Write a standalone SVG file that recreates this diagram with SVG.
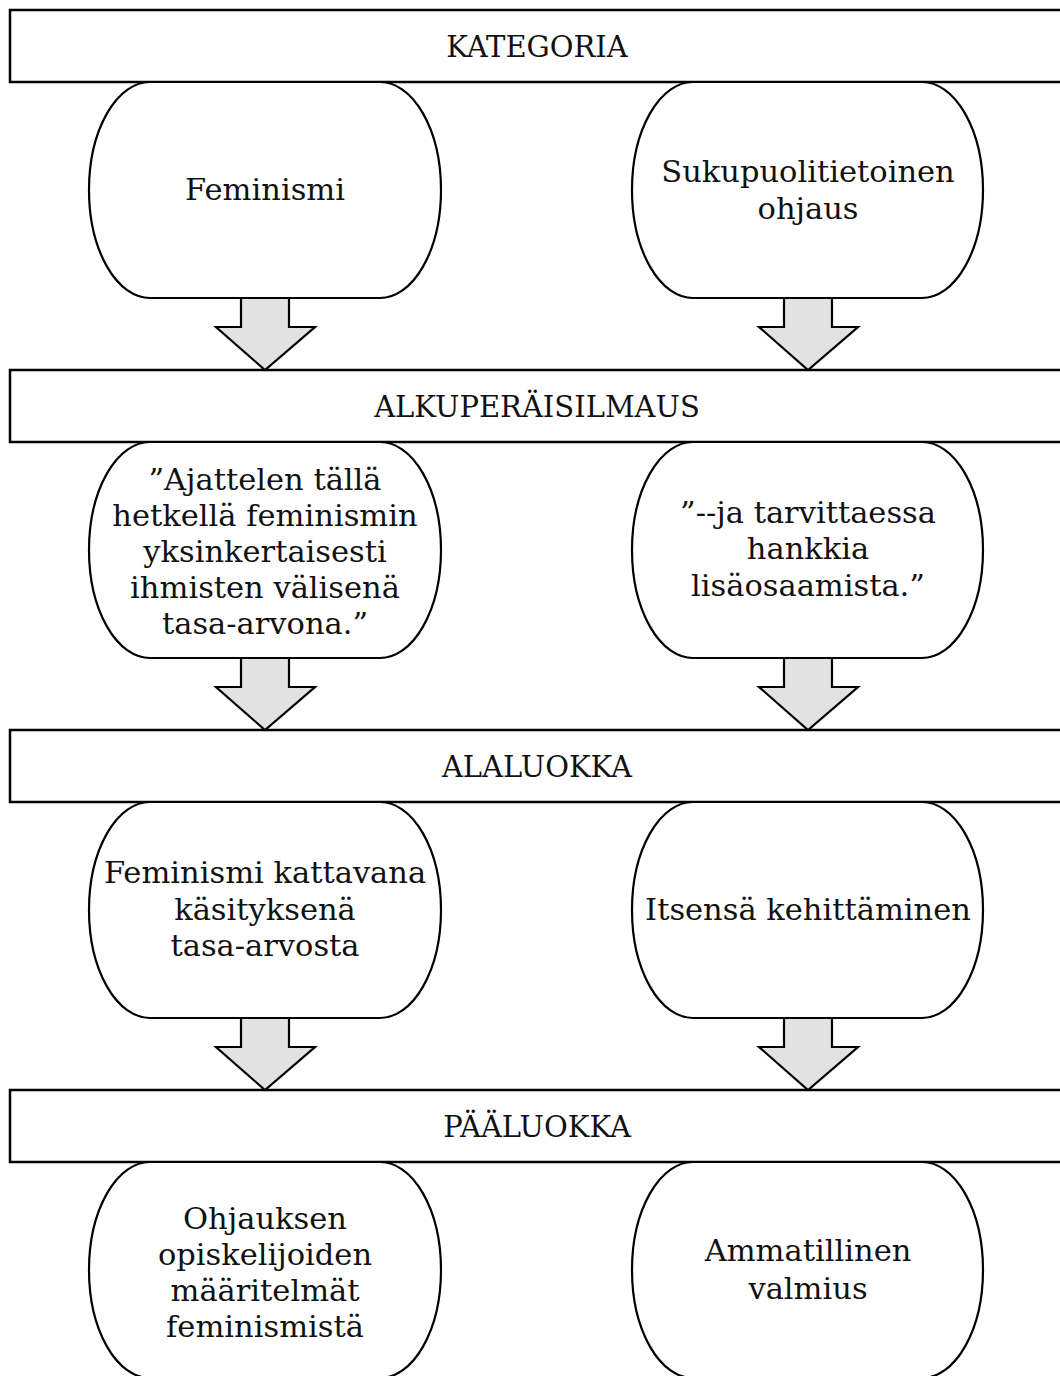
<svg xmlns="http://www.w3.org/2000/svg" width="1060" height="1376" viewBox="0 0 1060 1376">
<style>
.bar{fill:#fff;stroke:#000;stroke-width:2.5}
.node{fill:#fff;stroke:#000;stroke-width:2.2}
.arr{fill:#e2e2e2;stroke:#000;stroke-width:2.2;stroke-linejoin:miter}
text{font-family:"DejaVu Serif","Liberation Serif",serif;font-size:30.5px;fill:#111;text-anchor:middle}
.h{font-size:29px}
</style>
<defs>
<path id="pl" d="M150 0H380A61 108 0 0 1 380 216H150A61 108 0 0 1 150 0Z"/>
<path id="pr" d="M693 0H922A61 108 0 0 1 922 216H693A61 108 0 0 1 693 0Z"/>
<polygon id="al" points="241,0 289,0 289,29 315,29 265,72 216,29 241,29"/>
<polygon id="ar" points="784,0 832,0 832,29 858,29 808,72 759,29 784,29"/>
</defs>
<rect width="1060" height="1376" fill="#fff"/>
<g id="bar-kategoria"><rect class="bar" x="10" y="10" width="1070" height="72"/><text class="h" x="537" y="57">KATEGORIA</text></g>
<g id="bar-alkuperaisilmaus"><rect class="bar" x="10" y="370" width="1070" height="72"/><text class="h" x="537" y="417">ALKUPERÄISILMAUS</text></g>
<g id="bar-alaluokka"><rect class="bar" x="10" y="730" width="1070" height="72"/><text class="h" x="537" y="777">ALALUOKKA</text></g>
<g id="bar-paaluokka"><rect class="bar" x="10" y="1090" width="1070" height="72"/><text class="h" x="537" y="1137">PÄÄLUOKKA</text></g>
<g id="connectors">
<use href="#al" class="arr" y="298"/><use href="#ar" class="arr" y="298"/>
<use href="#al" class="arr" y="658"/><use href="#ar" class="arr" y="658"/>
<use href="#al" class="arr" y="1018"/><use href="#ar" class="arr" y="1018"/>
</g>
<g id="n-feminismi"><use href="#pl" class="node" y="82"/><text x="265" y="200">Feminismi</text></g>
<g id="n-sukupuoli"><use href="#pr" class="node" y="82"/><text x="808" y="182">Sukupuolitietoinen</text><text x="808" y="219">ohjaus</text></g>
<g id="n-quote1"><use href="#pl" class="node" y="442"/><text x="265" y="490">”Ajattelen tällä</text><text x="265" y="526">hetkellä feminismin</text><text x="265" y="562">yksinkertaisesti</text><text x="265" y="598">ihmisten välisenä</text><text x="265" y="634">tasa-arvona.”</text></g>
<g id="n-quote2"><use href="#pr" class="node" y="442"/><text x="808" y="523">”--ja tarvittaessa</text><text x="808" y="559">hankkia</text><text x="808" y="596">lisäosaamista.”</text></g>
<g id="n-kattavana"><use href="#pl" class="node" y="802"/><text x="265" y="883">Feminismi kattavana</text><text x="265" y="920">käsityksenä</text><text x="265" y="956">tasa-arvosta</text></g>
<g id="n-itsensa"><use href="#pr" class="node" y="802"/><text x="808" y="920">Itsensä kehittäminen</text></g>
<g id="n-ohjauksen"><use href="#pl" class="node" y="1162"/><text x="265" y="1229">Ohjauksen</text><text x="265" y="1265">opiskelijoiden</text><text x="265" y="1301">määritelmät</text><text x="265" y="1337">feminismistä</text></g>
<g id="n-ammatillinen"><use href="#pr" class="node" y="1162"/><text x="808" y="1261">Ammatillinen</text><text x="808" y="1299">valmius</text></g>
</svg>
